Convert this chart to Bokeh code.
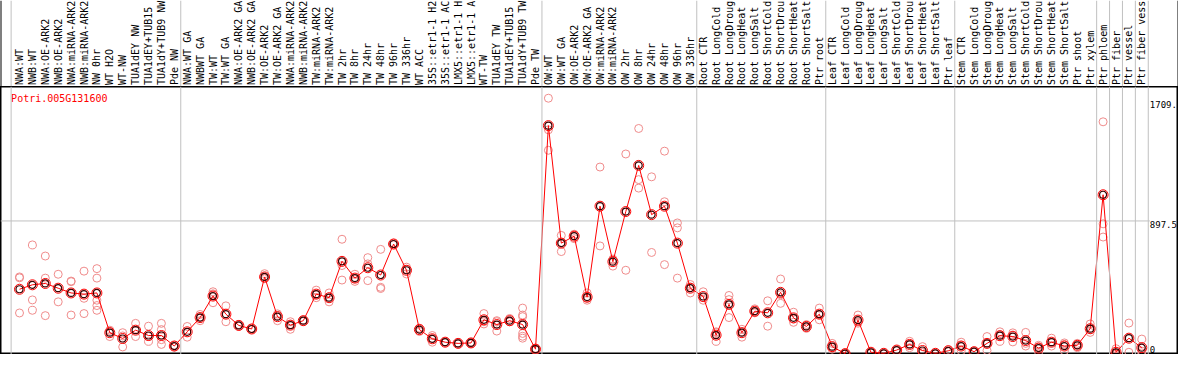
import numpy as np
from bokeh.plotting import figure
from bokeh.models import Range1d, Span
from bokeh.layouts import column
from bokeh.embed import file_html
from bokeh.resources import INLINE
from bokeh.core.properties import value

gene = "Potri.005G131600"

# sample labels as they appear in the reference (cut to the strip width there)
labels = [
    "NWA:WT", "NWB:WT", "NWA:OE-ARK2", "NWB:OE-ARK2", "NWA:miRNA-ARK2", "NWB:miRNA-ARK2",
    "NW 0hr", "WT H2O", "WT-NW", "TUA1dEY NW", "TUA1dEY+TUB15", "TUA1dY+TUB9 NW", "Pde NW",
    "NWA:WT GA", "NWBWT GA", "TW:WT", "TW:WT GA", "NWA:OE-ARK2 GA", "NWB:OE-ARK2 GA",
    "TW:OE-ARK2", "TW:OE-ARK2 GA", "NWA:miRNA-ARK2", "NWB:miRNA-ARK2", "TW:miRNA-ARK2",
    "TW:miRNA-ARK2", "TW 2hr", "TW 8hr", "TW 24hr", "TW 48hr", "TW 96hr", "TW 336hr",
    "WT ACC", "35S::etr1-1 H2", "35S::etr1-1 AC", "LMX5::etr1-1 H", "LMX5::etr1-1 A",
    "WT-TW", "TUA1dEY TW", "TUA1dEY+TUB15", "TUA1dY+TUB9 TW", "Pde TW",
    "OW:WT", "OW:WT GA", "OW:OE-ARK2", "OW:OE-ARK2 GA", "OW:miRNA-ARK2", "OW:miRNA-ARK2",
    "OW 2hr", "OW 8hr", "OW 24hr", "OW 48hr", "OW 96hr", "OW 336hr",
    "Root CTR", "Root LongCold", "Root LongDroug", "Root LongHeat", "Root LongSalt",
    "Root ShortCold", "Root ShortDrou", "Root ShortHeat", "Root ShortSalt", "Ptr root",
    "Leaf CTR", "Leaf LongCold", "Leaf LongDroug", "Leaf LongHeat", "Leaf LongSalt",
    "Leaf ShortCold", "Leaf ShortDrou", "Leaf ShortHeat", "Leaf ShortSalt", "Ptr leaf",
    "Stem CTR", "Stem LongCold", "Stem LongDroug", "Stem LongHeat", "Stem LongSalt",
    "Stem ShortCold", "Stem ShortDrou", "Stem ShortHeat", "Stem ShortSalt", "Ptr shoot", "Ptr xylem",
    "Ptr phloem", "Ptr fiber", "Ptr vessel", "Ptr fiber vess",
]

group_sizes = [13, 28, 12, 10, 10, 11, 1, 1, 1, 1]

means = [
    437, 467, 476, 444, 412, 404, 412, 144, 105, 161, 125, 125, 54,
    150, 246, 391, 269, 193, 169, 520, 252, 195, 225, 404, 380, 625, 512, 582, 533, 742, 565,
    165, 103, 80, 72, 75, 231, 199, 225, 199, 33,
    1540, 748, 795, 384, 997, 623, 961, 1272, 940, 997, 748, 444,
    388, 127, 335, 144, 289, 278, 416, 244, 186, 269,
    50, 3, 229, 12, 5, 27, 65, 24, 5, 22,
    54, 16, 72, 124, 118, 91, 40, 80, 54, 59, 171,
    1074, 12, 107, 43,
]

reps = [
    [520, 514, 277], [736, 365, 295], [661, 512, 259], [538, 352], [492, 488, 263],
    [559, 376, 273], [576, 512, 363, 327, 295], [161, 153, 118], [144, 122, 48], [207, 118],
    [188, 118, 86], [207, 165, 125, 97, 65], [60, 48],
    [186, 114], [267, 246, 225], [420, 406, 346], [325, 218], [199, 188], [174, 165],
    [542, 510, 508], [271, 260, 225], [218, 200, 167], [230, 220], [431, 400, 380],
    [412, 376, 352], [774, 597, 499], [538, 508, 490], [650, 608, 495], [706, 450, 442],
    [748, 736], [586, 570, 540], [175, 168, 152], [125, 104, 80], [82, 78], [74, 70],
    [80, 75, 70], [273, 218, 203], [218, 225, 155], [240, 218, 218],
    [310, 263, 252, 139, 107, 120], [40, 33, 27],
    [1725, 1512, 1374], [800, 752, 691], [808, 798, 778], [412, 376, 363], [1261, 729],
    [640, 635, 593], [1349, 565], [1521, 1176, 1119], [1195, 685], [1368, 1027, 603],
    [884, 851, 512], [469, 450, 412],
    [420, 380, 363], [150, 145, 86], [395, 367, 246], [167, 150, 114], [305, 284, 278],
    [359, 188], [506, 400, 342], [282, 236, 214], [199, 186, 173], [310, 266, 231],
    [72, 45, 33], [5, 2], [263, 216, 208], [14, 10], [6, 4], [30, 24], [86, 66, 43],
    [50, 12, 10], [6, 4], [30, 16],
    [80, 60, 22], [18, 14], [118, 74, 24], [150, 130, 86], [143, 129, 82], [146, 72, 54],
    [59, 49, 12], [107, 80, 54], [75, 65, 22], [72, 62, 43], [203, 164, 146],
    [1566, 878, 789], [36, 0, 0], [209, 12], [101, 20, 8],
]

tick_values = [0, 897.5, 1709]
tick_labels = ["0", "897.5", "1709."]
grid_values = [897.5]

# ---------------- layout / style ----------------
W = 1178
H_TOP = 86
H_PLOT = 268
FONT = value("DejaVu Sans Mono")
GRAY = "#c0c0c0"

n = len(labels)
xs = list(range(n))
PX = 12.9                       # pixels per category
X0 = -19.0 / PX
X1 = X0 + W / PX
Y0, Y1 = -3, 1804
x_range = Range1d(X0, X1)
upp = (Y1 - Y0) / H_PLOT        # data units per pixel

bounds = np.cumsum(group_sizes) - 0.5
seps = [-0.65] + list(bounds)
label_x = bounds[-1] + 1.6 / PX

# --- label strip ---
top = figure(width=W, height=H_TOP, x_range=x_range, y_range=Range1d(0, H_TOP),
             output_backend="svg", toolbar_location=None, min_border=0,
             x_axis_location=None, y_axis_location=None, outline_line_color=None)
top.grid.visible = False
for s in seps:
    top.add_layout(Span(location=s, dimension="height", line_color=GRAY, line_width=1))
top.add_layout(Span(location=X0, dimension="height", line_color="black", line_width=2))
top.add_layout(Span(location=X1, dimension="height", line_color="black", line_width=2))
top.text(x=xs, y=[1.5] * n, text=labels, angle=np.pi / 2, text_align="left",
         text_baseline="middle", text_font=FONT, text_font_size="10px", text_color="black")

# --- main plot ---
p = figure(width=W, height=H_PLOT, x_range=x_range, y_range=Range1d(Y0, Y1),
           output_backend="svg", toolbar_location=None, min_border=0,
           x_axis_location=None, y_axis_location=None,
           outline_line_color="black", outline_line_width=2)
p.grid.visible = False
for s in seps:
    p.add_layout(Span(location=s, dimension="height", line_color=GRAY, line_width=1))
p.segment(x0=[X0] * len(grid_values), x1=[label_x] * len(grid_values),
          y0=grid_values, y1=grid_values, line_color=GRAY, line_width=1)

rx, ry = [], []
for i, r in enumerate(reps):
    rx += [i] * len(r)
    ry += r
p.scatter(rx, ry, marker="circle", size=8, fill_color=None, line_color="#f08c8c", line_width=1)
p.line(xs, means, line_color="red", line_width=1)
p.scatter(xs, means, marker="circle", size=10, fill_color=None, line_color="red", line_width=1)
p.scatter(xs, means, marker="circle", size=7, fill_color=None, line_color="#3a0000", line_width=1.2)

# y tick labels on the right
tb = ["top" if v > 0 else "bottom" for v in tick_values]
ty = [v if v > 0 else Y0 + 1.5 * upp for v in tick_values]
p.text(x=[label_x] * len(tick_values), y=ty, text=tick_labels, text_align="left",
       text_baseline=tb, text_font=FONT, text_font_size="9px", text_color="black")

# gene name
p.text(x=[seps[0]], y=[Y1 - 6 * upp], text=[gene], text_align="left",
       text_baseline="top", text_font=FONT, text_font_size="10px", text_color="red")

layout = column(top, p)
open("out.html", "w").write(file_html(layout, INLINE))
